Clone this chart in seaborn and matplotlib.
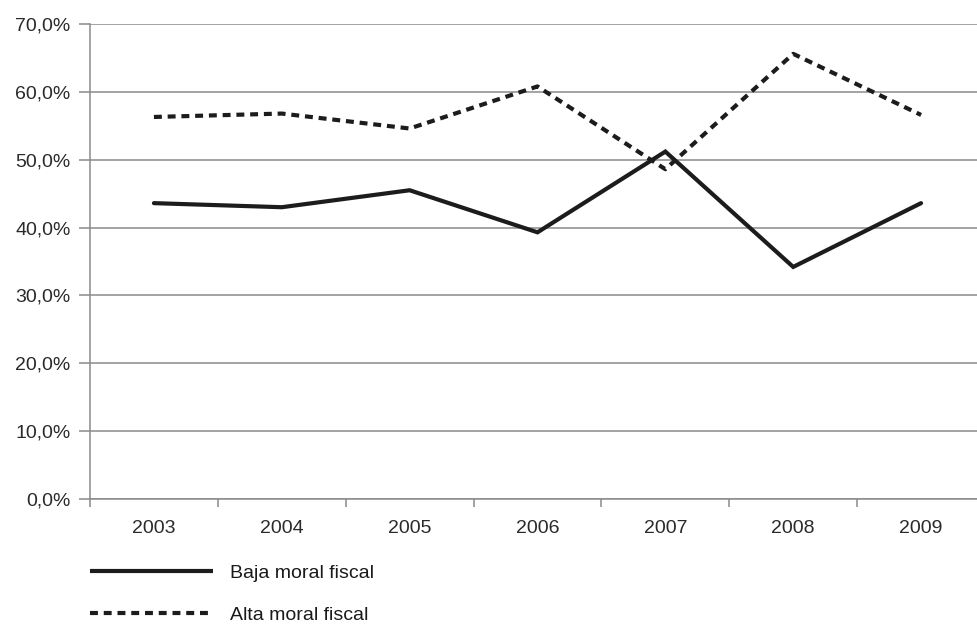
import matplotlib
matplotlib.use("Agg")
import matplotlib.pyplot as plt
import seaborn as sns
import pandas as pd
from matplotlib.ticker import FuncFormatter, FixedLocator
from matplotlib.lines import Line2D

years = ["2003", "2004", "2005", "2006", "2007", "2008", "2009"]
baja = [43.6, 43.0, 45.5, 39.3, 51.2, 34.2, 43.6]
alta = [56.3, 56.8, 54.6, 60.8, 48.6, 65.6, 56.6]
series_names = ["Baja moral fiscal", "Alta moral fiscal"]
yticks = [0, 10, 20, 30, 40, 50, 60, 70]

df = pd.DataFrame({
    "year": years * 2,
    "value": baja + alta,
    "serie": [series_names[0]] * len(years) + [series_names[1]] * len(years),
})

sns.set_style("white")
plt.rcParams["font.family"] = ["Liberation Sans", "DejaVu Sans"]

fig = plt.figure(figsize=(9.77, 6.25), dpi=100)
ax = fig.add_axes([90 / 977, 126 / 625, 895 / 977, 475 / 625])

line_color = "#1c1c1c"
dash = (1.9, 1.4)
sns.lineplot(data=df, x="year", y="value", hue="serie", style="serie",
             palette={series_names[0]: line_color, series_names[1]: line_color},
             dashes={series_names[0]: "", series_names[1]: dash},
             linewidth=3.0, ax=ax, legend=False, sort=False)
for ln in ax.get_lines():
    ln.set_dash_capstyle("butt")
    ln.set_solid_joinstyle("miter")

ax.set_xlim(-0.5, 6.5)
ax.set_ylim(0, 70)
ax.set_yticks(yticks)
ax.yaxis.set_major_formatter(FuncFormatter(lambda v, p: f"{v:.1f}".replace(".", ",") + "%"))
ax.grid(axis="y", color="#8a8a8a", linewidth=1.1)
ax.set_axisbelow(True)

ax.xaxis.set_minor_locator(FixedLocator([i - 0.5 for i in range(len(years) + 1)]))
ax.tick_params(axis="x", which="major", length=0, pad=15, labelsize=14, labelcolor="#2a2a2a")
ax.tick_params(axis="x", which="minor", length=6, width=1.1, color="#8a8a8a", direction="out")
ax.tick_params(axis="y", which="major", length=8, width=1.1, color="#8a8a8a", direction="out",
               pad=6, labelsize=14, labelcolor="#2a2a2a")
ax.xaxis.set_ticks_position("bottom")
ax.yaxis.set_ticks_position("left")

for side in ["top", "right"]:
    ax.spines[side].set_visible(False)
for side in ["left", "bottom"]:
    ax.spines[side].set_color("#8a8a8a")
    ax.spines[side].set_linewidth(1.1)
ax.set_xlabel("")
ax.set_ylabel("")

handles = [
    Line2D([], [], color=line_color, linewidth=3.0, solid_capstyle="butt"),
    Line2D([], [], color=line_color, linewidth=3.0, linestyle=(0, dash), dash_capstyle="butt"),
]
fig.legend(handles, series_names, loc="upper left", bbox_to_anchor=(90 / 977, (625 - 564) / 625),
           frameon=False, fontsize=14, handlelength=6.3, handletextpad=0.9,
           labelspacing=1.28, borderpad=0, borderaxespad=0, labelcolor="#1a1a1a")

fig.savefig("out.png", dpi=100, facecolor="white")
